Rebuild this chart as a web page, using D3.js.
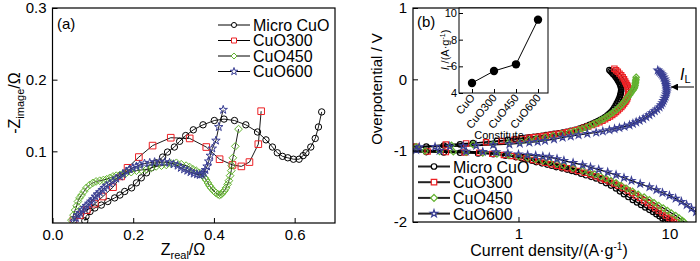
<!DOCTYPE html>
<html>
<head>
<meta charset="utf-8">
<script src="https://cdn.jsdelivr.net/npm/d3@7"></script>
<style>
body { margin: 0; background: #fff; }
text { font-family: "Liberation Sans", Arial, sans-serif; fill: #000; }
</style>
</head>
<body>
<svg id="chart" width="700" height="261"></svg>
<script>
// ---- data ----
var seriesNames = ["Micro CuO", "CuO300", "CuO450", "CuO600"];
var seriesColors = ["#000000", "#ec2024", "#62b22f", "#3a3f94"];

// (a) Nyquist, [Z_real, -Z_image]
var eisMicro = [[0.080,0.003],[0.083,0.009],[0.093,0.016],[0.105,0.021],[0.121,0.025],[0.137,0.030],[0.154,0.035],[0.167,0.039],[0.179,0.044],[0.196,0.049],[0.208,0.056],[0.220,0.063],[0.233,0.070],[0.245,0.077],[0.257,0.084],[0.273,0.092],[0.285,0.099],[0.302,0.106],[0.315,0.114],[0.330,0.122],[0.349,0.130],[0.373,0.137],[0.401,0.143],[0.425,0.145],[0.451,0.143],[0.479,0.137],[0.508,0.127],[0.529,0.116],[0.545,0.106],[0.557,0.098],[0.570,0.093],[0.583,0.091],[0.597,0.089],[0.611,0.089],[0.621,0.094],[0.628,0.098],[0.640,0.106],[0.651,0.118],[0.659,0.134],[0.667,0.155]];
var eis300 = [[0.052,0.004],[0.068,0.011],[0.085,0.018],[0.105,0.027],[0.125,0.037],[0.150,0.050],[0.170,0.065],[0.186,0.077],[0.214,0.092],[0.248,0.108],[0.293,0.119],[0.340,0.118],[0.381,0.106],[0.414,0.089],[0.446,0.081],[0.468,0.079],[0.488,0.085],[0.510,0.110],[0.517,0.156]];
var eis450 = [[0.047,0.004],[0.052,0.011],[0.056,0.018],[0.060,0.024],[0.063,0.030],[0.067,0.035],[0.072,0.039],[0.078,0.044],[0.084,0.049],[0.092,0.053],[0.100,0.056],[0.108,0.058],[0.117,0.059],[0.126,0.060],[0.134,0.061],[0.142,0.063],[0.150,0.065],[0.158,0.066],[0.167,0.067],[0.175,0.069],[0.183,0.070],[0.195,0.071],[0.208,0.073],[0.220,0.074],[0.233,0.075],[0.245,0.077],[0.257,0.079],[0.270,0.080],[0.282,0.081],[0.294,0.083],[0.307,0.084],[0.319,0.082],[0.331,0.080],[0.340,0.078],[0.348,0.075],[0.356,0.073],[0.364,0.070],[0.371,0.067],[0.377,0.063],[0.381,0.060],[0.385,0.056],[0.389,0.052],[0.393,0.049],[0.399,0.045],[0.405,0.042],[0.410,0.040],[0.414,0.039],[0.418,0.040],[0.421,0.042],[0.426,0.045],[0.430,0.049],[0.434,0.054],[0.437,0.059],[0.440,0.066],[0.443,0.073],[0.444,0.080],[0.447,0.091],[0.453,0.107],[0.461,0.131]];
var eis600 = [[0.053,0.002],[0.058,0.007],[0.063,0.011],[0.068,0.014],[0.074,0.018],[0.079,0.021],[0.084,0.024],[0.090,0.027],[0.095,0.030],[0.100,0.033],[0.106,0.037],[0.111,0.040],[0.117,0.043],[0.123,0.046],[0.128,0.049],[0.134,0.052],[0.142,0.055],[0.150,0.058],[0.158,0.062],[0.167,0.065],[0.175,0.068],[0.183,0.072],[0.191,0.075],[0.199,0.077],[0.208,0.079],[0.216,0.081],[0.228,0.083],[0.241,0.084],[0.253,0.085],[0.265,0.085],[0.278,0.085],[0.290,0.084],[0.300,0.082],[0.310,0.080],[0.318,0.077],[0.326,0.075],[0.334,0.073],[0.342,0.071],[0.350,0.069],[0.358,0.068],[0.365,0.067],[0.370,0.068],[0.375,0.070],[0.379,0.074],[0.383,0.079],[0.387,0.086],[0.391,0.094],[0.396,0.104],[0.405,0.115],[0.412,0.134],[0.423,0.158]];

// (b) polarization, [current density, overpotential]
var upMicro = [[0.18,-0.948],[0.205,-0.947],[0.245,-0.944],[0.32,-0.928],[0.41,-0.912],[0.5,-0.895],[0.61,-0.877],[0.72,-0.862],[0.85,-0.848],[0.95,-0.836],[1.05,-0.825],[1.12,-0.818],[1.18,-0.812],[1.26,-0.805],[1.35,-0.797],[1.43,-0.79],[1.52,-0.782],[1.62,-0.774],[1.72,-0.765],[1.84,-0.756],[1.96,-0.745],[2.08,-0.734],[2.22,-0.72],[2.38,-0.706],[2.54,-0.69],[2.68,-0.674],[2.82,-0.656],[2.96,-0.638],[3.10,-0.62],[3.23,-0.603],[3.36,-0.585],[3.49,-0.568],[3.62,-0.55],[3.75,-0.528],[3.88,-0.505],[4.0,-0.481],[4.11,-0.457],[4.21,-0.43],[4.31,-0.40],[4.40,-0.368],[4.48,-0.336],[4.56,-0.308],[4.62,-0.28],[4.68,-0.252],[4.72,-0.224],[4.76,-0.2],[4.78,-0.175],[4.79,-0.152],[4.79,-0.13],[4.77,-0.107],[4.74,-0.085],[4.69,-0.061],[4.62,-0.038],[4.55,-0.014],[4.48,0.01],[4.40,0.033],[4.32,0.056],[4.23,0.076],[4.15,0.095],[4.07,0.113],[4.00,0.13]];
var up300 = [[0.18,-0.946],[0.21,-0.945],[0.33,-0.915],[0.45,-0.898],[0.61,-0.882],[0.77,-0.865],[0.94,-0.848],[1.06,-0.833],[1.18,-0.818],[1.26,-0.811],[1.35,-0.804],[1.43,-0.797],[1.52,-0.79],[1.62,-0.782],[1.72,-0.773],[1.84,-0.764],[1.96,-0.755],[2.09,-0.743],[2.22,-0.73],[2.38,-0.715],[2.54,-0.70],[2.72,-0.68],[2.9,-0.66],[3.08,-0.64],[3.27,-0.62],[3.44,-0.60],[3.6,-0.58],[3.75,-0.56],[3.9,-0.54],[4.04,-0.52],[4.18,-0.50],[4.31,-0.478],[4.43,-0.457],[4.56,-0.433],[4.68,-0.41],[4.8,-0.387],[4.91,-0.364],[5.01,-0.34],[5.1,-0.315],[5.18,-0.292],[5.25,-0.27],[5.3,-0.24],[5.34,-0.21],[5.37,-0.182],[5.38,-0.154],[5.35,-0.13],[5.3,-0.105],[5.24,-0.082],[5.17,-0.06],[5.09,-0.03],[5.0,0.0],[4.9,0.028],[4.79,0.056],[4.67,0.08],[4.55,0.105],[4.43,0.128],[4.32,0.15]];
var up450 = [[0.18,-0.946],[0.21,-0.945],[0.36,-0.925],[0.5,-0.915],[0.68,-0.905],[0.86,-0.888],[1.04,-0.87],[1.17,-0.853],[1.31,-0.835],[1.5,-0.812],[1.69,-0.79],[1.92,-0.768],[2.17,-0.745],[2.33,-0.728],[2.5,-0.71],[2.65,-0.693],[2.81,-0.675],[2.96,-0.653],[3.12,-0.63],[3.28,-0.608],[3.44,-0.585],[3.58,-0.565],[3.72,-0.545],[3.86,-0.523],[4.00,-0.50],[4.14,-0.478],[4.28,-0.455],[4.42,-0.432],[4.55,-0.41],[4.67,-0.388],[4.78,-0.365],[4.89,-0.343],[4.99,-0.32],[5.1,-0.295],[5.22,-0.27],[5.33,-0.245],[5.44,-0.22],[5.53,-0.198],[5.62,-0.175],[5.73,-0.152],[5.83,-0.13],[5.88,-0.107],[5.92,-0.085],[5.94,-0.062],[5.96,-0.04],[5.98,-0.02],[6.0,0.0],[6.02,0.03]];
var up600 = [[0.18,-0.952],[0.22,-0.95],[0.28,-0.945],[0.35,-0.94],[0.43,-0.935],[0.525,-0.93],[0.68,-0.92],[0.87,-0.91],[1.02,-0.898],[1.18,-0.885],[1.34,-0.873],[1.5,-0.86],[1.72,-0.838],[1.96,-0.815],[2.22,-0.798],[2.5,-0.78],[2.86,-0.762],[3.27,-0.745],[3.62,-0.728],[4.0,-0.71],[4.33,-0.695],[4.66,-0.68],[5.04,-0.662],[5.44,-0.643],[5.73,-0.622],[6.02,-0.60],[6.35,-0.578],[6.7,-0.555],[7.03,-0.528],[7.37,-0.50],[7.68,-0.472],[8.0,-0.445],[8.3,-0.418],[8.6,-0.39],[8.82,-0.36],[9.0,-0.33],[9.15,-0.30],[9.27,-0.27],[9.4,-0.24],[9.5,-0.21],[9.56,-0.182],[9.6,-0.154],[9.58,-0.127],[9.55,-0.10],[9.5,-0.075],[9.45,-0.05],[9.38,-0.025],[9.3,0.0],[9.15,0.028],[9.0,0.056],[8.85,0.076],[8.7,0.095],[8.53,0.11],[8.37,0.126]];
var downMicro = [[0.18,-1.02],[0.245,-1.02],[0.32,-1.025],[0.41,-1.03],[0.54,-1.04],[0.68,-1.05],[0.82,-1.07],[0.96,-1.09],[1.05,-1.105],[1.15,-1.12],[1.23,-1.14],[1.31,-1.16],[1.43,-1.178],[1.55,-1.195],[1.66,-1.212],[1.78,-1.23],[1.94,-1.248],[2.1,-1.265],[2.25,-1.283],[2.41,-1.30],[2.6,-1.322],[2.8,-1.345],[3.03,-1.367],[3.27,-1.39],[3.53,-1.422],[3.8,-1.455],[4.1,-1.49],[4.43,-1.53],[4.7,-1.57],[5.0,-1.61],[5.35,-1.65],[5.72,-1.69],[6.1,-1.725],[6.5,-1.76],[6.92,-1.795],[7.37,-1.83],[7.8,-1.86],[8.2,-1.89],[8.6,-1.92],[9.0,-1.95],[9.4,-1.975],[9.8,-2.0]];
var down300 = [[0.18,-1.0],[0.25,-1.01],[0.33,-1.02],[0.44,-1.025],[0.55,-1.03],[0.67,-1.045],[0.8,-1.06],[0.9,-1.075],[1.0,-1.09],[1.12,-1.11],[1.25,-1.13],[1.37,-1.15],[1.5,-1.17],[1.65,-1.19],[1.8,-1.21],[1.95,-1.228],[2.1,-1.245],[2.3,-1.265],[2.5,-1.285],[2.75,-1.31],[3.0,-1.335],[3.25,-1.36],[3.5,-1.385],[3.75,-1.408],[4.0,-1.43],[4.3,-1.46],[4.6,-1.49],[4.95,-1.525],[5.3,-1.56],[5.65,-1.595],[6.0,-1.63],[6.4,-1.665],[6.8,-1.70],[7.2,-1.735],[7.6,-1.77],[8.05,-1.805],[8.5,-1.84],[9.0,-1.875],[9.5,-1.91],[10.0,-1.94],[10.4,-1.96],[10.7,-1.98],[11.0,-2.0]];
var down450 = [[0.18,-1.0],[0.24,-1.005],[0.3,-1.01],[0.37,-1.015],[0.45,-1.02],[0.58,-1.032],[0.72,-1.045],[0.86,-1.062],[1.0,-1.08],[1.15,-1.103],[1.3,-1.125],[1.45,-1.143],[1.6,-1.16],[1.8,-1.185],[2.0,-1.21],[2.3,-1.245],[2.66,-1.28],[2.93,-1.305],[3.2,-1.33],[3.5,-1.36],[3.8,-1.39],[4.1,-1.42],[4.43,-1.45],[4.8,-1.49],[5.2,-1.53],[5.7,-1.57],[6.2,-1.61],[6.8,-1.65],[7.37,-1.69],[7.9,-1.73],[8.5,-1.77],[9.1,-1.805],[9.7,-1.84],[10.3,-1.875],[11.0,-1.91],[11.6,-1.945],[12.2,-1.98],[12.5,-2.0]];
var down600 = [[0.18,-0.99],[0.21,-0.99],[0.3,-1.0],[0.45,-1.01],[0.58,-1.015],[0.71,-1.02],[0.85,-1.035],[1.0,-1.05],[1.15,-1.06],[1.3,-1.07],[1.45,-1.08],[1.6,-1.09],[1.8,-1.115],[2.0,-1.14],[2.3,-1.17],[2.66,-1.20],[3.0,-1.232],[3.4,-1.265],[3.9,-1.302],[4.43,-1.34],[5.0,-1.38],[5.6,-1.42],[6.4,-1.465],[7.37,-1.51],[8.2,-1.55],[9.0,-1.59],[10.0,-1.63],[11.0,-1.67],[12.0,-1.715],[13.0,-1.76],[14.0,-1.81],[15.0,-1.86]];

// inset
var insetCats = ["CuO", "CuO300", "CuO450", "CuO600"];
var insetIL = [4.75, 5.65, 6.15, 9.5];

// ticks
var eisXTicks = [0, 0.2, 0.4, 0.6];
var eisYTicks = [0.1, 0.2, 0.3];
var polXTicks = [1, 10];
var polYTicks = [-2, -1, 0, 1];
var insetYTicks = [4, 6, 8, 10];

var eisSets = [eisMicro, eis300, eis450, eis600];
var upSets = [upMicro, up300, up450, up600];
var downSets = [downMicro, down300, down450, down600];
var symTypes = [d3.symbolCircle, d3.symbolSquare, d3.symbolDiamond2, d3.symbolStar];

var svg = d3.select("#chart");
var defs = svg.append("defs");

function styleAxis(g, size) {
  g.attr("font-family", null).attr("font-size", null);
  g.selectAll("text").style("font-size", size + "px");
  g.select(".domain").remove();
  g.selectAll(".tick line").attr("stroke", "#000").attr("stroke-width", 1);
}

function markers(g, data, xs, ys, type, size, color, sw) {
  g.selectAll(null).data(data).enter().append("path")
    .attr("d", d3.symbol().type(type).size(size))
    .attr("transform", function (d) { return "translate(" + xs(d[0]) + "," + ys(d[1]) + ")"; })
    .attr("fill", "none")
    .attr("stroke", color)
    .attr("stroke-width", sw);
}

// ===== panel (a) =====
var ax = d3.scaleLinear().domain([0, 0.7]).range([52.5, 335]);
var ay = d3.scaleLinear().domain([0, 0.3]).range([223, 8]);

defs.append("clipPath").attr("id", "clipA")
  .append("rect").attr("x", 52.5).attr("y", 8).attr("width", 282.5).attr("height", 215);

var gA = svg.append("g").attr("clip-path", "url(#clipA)");
var lineA = d3.line().x(function (d) { return ax(d[0]); }).y(function (d) { return ay(d[1]); });
eisSets.forEach(function (data, i) {
  gA.append("path").datum(data).attr("d", lineA)
    .attr("fill", "none").attr("stroke", "#000").attr("stroke-width", 0.9);
  markers(gA, data, ax, ay, symTypes[i], [32, 44, 38, 22][i], seriesColors[i], 1);
});

svg.append("g").attr("transform", "translate(0,223)")
  .call(d3.axisBottom(ax).tickValues(eisXTicks).tickSize(-5).tickPadding(6).tickFormat(d3.format(".1f")))
  .call(styleAxis, 15);
svg.append("g").attr("transform", "translate(52.5,0)")
  .call(d3.axisLeft(ay).tickValues(eisYTicks).tickSize(-5).tickPadding(6).tickFormat(d3.format(".1f")))
  .call(styleAxis, 15);
svg.append("rect").attr("x", 52.5).attr("y", 8).attr("width", 282.5).attr("height", 215)
  .attr("fill", "none").attr("stroke", "#000").attr("stroke-width", 1.2);

svg.append("text").attr("x", 57).attr("y", 29).style("font-size", "15px").text("(a)");

var tA = svg.append("text").attr("text-anchor", "middle").style("font-size", "16px")
  .attr("transform", "translate(20,103) rotate(-90)");
tA.append("tspan").text("-Z");
tA.append("tspan").attr("dy", 4).style("font-size", "11px").text("image");
tA.append("tspan").attr("dy", -4).text("/Ω");

var xA = svg.append("text").attr("x", 183).attr("y", 255).attr("text-anchor", "middle").style("font-size", "16px");
xA.append("tspan").text("Z");
xA.append("tspan").attr("dy", 4).style("font-size", "11px").text("real");
xA.append("tspan").attr("dy", -4).text("/Ω");

var legA = svg.append("g");
seriesNames.forEach(function (name, i) {
  var y = 25 + i * 15.5;
  legA.append("line").attr("x1", 218).attr("x2", 250).attr("y1", y).attr("y2", y)
    .attr("stroke", "#000").attr("stroke-width", 1);
  legA.append("path").attr("d", d3.symbol().type(symTypes[i]).size([20, 25, 23, 18][i]))
    .attr("transform", "translate(234," + y + ")")
    .attr("fill", "#fff").attr("stroke", seriesColors[i]).attr("stroke-width", 1);
  legA.append("text").attr("x", 253).attr("y", y + 5.5).style("font-size", "16px").text(name);
});

// ===== panel (b) =====
var bx = d3.scaleLog().domain([0.2, 15]).range([413, 696]);
var by = d3.scaleLinear().domain([-2, 1]).range([222, 8]);

defs.append("clipPath").attr("id", "clipB")
  .append("rect").attr("x", 413).attr("y", 8).attr("width", 283).attr("height", 214);

var gB = svg.append("g").attr("clip-path", "url(#clipB)");
var lineB = d3.line().x(function (d) { return bx(d[0]); }).y(function (d) { return by(d[1]); });
[0, 1, 2, 3].forEach(function (i) {
  [upSets[i], downSets[i]].forEach(function (data) {
    gB.append("path").datum(data).attr("d", lineB)
      .attr("fill", "none").attr("stroke", "#000").attr("stroke-width", 1.2);
  });
});
[0, 1, 2, 3].forEach(function (i) {
  [upSets[i], downSets[i]].forEach(function (data) {
    markers(gB, data, bx, by, symTypes[i], [23, 28, 26, 15][i], seriesColors[i], 1.2);
  });
});

svg.append("g").attr("transform", "translate(0,222)")
  .call(d3.axisBottom(bx).tickValues(polXTicks).tickSize(-5).tickPadding(6).tickFormat(function (d) { return String(d); }))
  .call(styleAxis, 15);
svg.append("g").attr("transform", "translate(413,0)")
  .call(d3.axisLeft(by).tickValues(polYTicks).tickSize(-5).tickPadding(6).tickFormat(function (d) { return String(d); }))
  .call(styleAxis, 15);
svg.append("rect").attr("x", 413).attr("y", 8).attr("width", 283).attr("height", 214)
  .attr("fill", "none").attr("stroke", "#000").attr("stroke-width", 1.2);

svg.append("text").attr("x", 417).attr("y", 27).style("font-size", "15px").text("(b)");

svg.append("text").attr("text-anchor", "middle").style("font-size", "15px")
  .attr("transform", "translate(382,89) rotate(-90)").text("Overpotential / V");

var xB = svg.append("text").attr("x", 549).attr("y", 256).attr("text-anchor", "middle").style("font-size", "16px");
xB.append("tspan").text("Current density/(A·g");
xB.append("tspan").attr("dy", -6).style("font-size", "10px").text("-1");
xB.append("tspan").attr("dy", 6).text(")");

// I_L arrow
defs.append("marker").attr("id", "arrowHead")
  .attr("viewBox", "0 0 10 10").attr("refX", 10).attr("refY", 5)
  .attr("markerWidth", 8).attr("markerHeight", 7).attr("orient", "auto")
  .append("path").attr("d", "M0,0 L10,5 L0,10 z").attr("fill", "#000");
svg.append("line").attr("x1", 694).attr("x2", 671).attr("y1", 87).attr("y2", 87)
  .attr("stroke", "#000").attr("stroke-width", 1).attr("marker-end", "url(#arrowHead)");
var il = svg.append("text").attr("x", 680).attr("y", 80).style("font-size", "16px");
il.append("tspan").style("font-style", "italic").text("I");
il.append("tspan").attr("dy", 3).style("font-size", "11px").text("L");

var legB = svg.append("g");
seriesNames.forEach(function (name, i) {
  var y = 166.5 + i * 15.7;
  legB.append("line").attr("x1", 418).attr("x2", 450).attr("y1", y).attr("y2", y)
    .attr("stroke", "#222").attr("stroke-width", 2);
  legB.append("path").attr("d", d3.symbol().type(symTypes[i]).size([24, 30, 30, 17][i]))
    .attr("transform", "translate(434," + y + ")")
    .attr("fill", "#fff").attr("stroke", seriesColors[i]).attr("stroke-width", 1.2);
  legB.append("text").attr("x", 453).attr("y", y + 6).style("font-size", "16px").text(name);
});

// ===== inset =====
var ix = d3.scalePoint().domain(insetCats).range([472, 538]);
var iy = d3.scaleLinear().domain([4, 10.3]).range([93, 9]);

svg.append("rect").attr("x", 459).attr("y", 8).attr("width", 89).attr("height", 85)
  .attr("fill", "#fff").attr("stroke", "#000").attr("stroke-width", 1);

svg.append("g").attr("transform", "translate(459,0)")
  .call(d3.axisLeft(iy).tickValues(insetYTicks).tickSize(-4).tickPadding(2).tickFormat(d3.format("d")))
  .call(styleAxis, 11);

var xi = svg.append("g").attr("transform", "translate(0,93)")
  .call(d3.axisBottom(ix).tickSize(-4).tickPadding(4))
  .call(styleAxis, 11);
xi.selectAll(".tick text")
  .attr("text-anchor", "end").attr("dy", null).attr("y", null)
  .attr("transform", "translate(3,5) rotate(-50)");

svg.append("path").datum(insetCats.map(function (c, i) { return [c, insetIL[i]]; }))
  .attr("d", d3.line().x(function (d) { return ix(d[0]); }).y(function (d) { return iy(d[1]); }))
  .attr("fill", "none").attr("stroke", "#000").attr("stroke-width", 1);
svg.selectAll(null).data(insetCats).enter().append("circle")
  .attr("cx", function (d) { return ix(d); })
  .attr("cy", function (d, i) { return iy(insetIL[i]); })
  .attr("r", 4.2).attr("fill", "#000");

var iyl = svg.append("text").attr("text-anchor", "middle").style("font-size", "11px")
  .attr("transform", "translate(449,50) rotate(-90)");
iyl.append("tspan").style("font-style", "italic").text("I");
iyl.append("tspan").attr("dy", 3).style("font-size", "7px").text("L");
iyl.append("tspan").attr("dy", -3).text("/(A·g");
iyl.append("tspan").attr("dy", -4).style("font-size", "7px").text("-1");
iyl.append("tspan").attr("dy", 4).text(")");

svg.append("text").attr("x", 499).attr("y", 139).attr("text-anchor", "middle")
  .style("font-size", "11px").text("Constitute");
</script>
</body>
</html>
